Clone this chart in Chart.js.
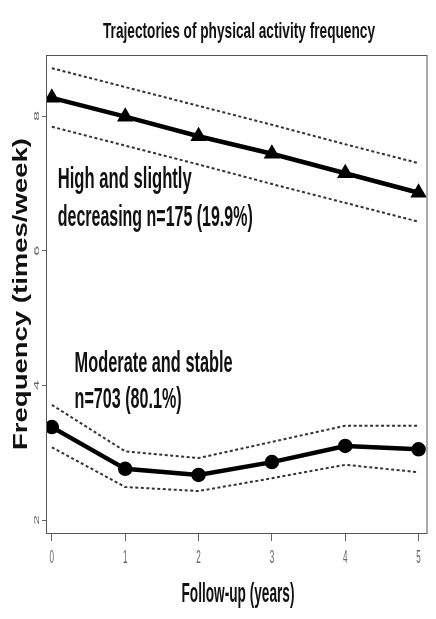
<!DOCTYPE html>
<html>
<head>
<meta charset="utf-8">
<script src="https://cdn.jsdelivr.net/npm/chart.js@4.4.1/dist/chart.umd.min.js"></script>
<style>
  html, body { margin: 0; padding: 0; background: #fff; }
  #wrap { width: 436px; height: 619px; }
</style>
</head>
<body>
<div id="wrap"><canvas id="chart" width="436" height="619"></canvas></div>
<script>
// ---- data ----
const years = [0, 1, 2, 3, 4, 5];
const xTicks = [0, 1, 2, 3, 4, 5];
const yTicks = [2, 4, 6, 8];

const highMean  = [8.27, 7.99, 7.70, 7.44, 7.15, 6.86];
const highUpper = [8.71, 8.43, 8.15, 7.87, 7.58, 7.30];
const highLower = [7.84, 7.56, 7.28, 6.99, 6.71, 6.43];

const modMean  = [3.38, 2.76, 2.67, 2.86, 3.10, 3.05];
const modUpper = [3.71, 3.02, 2.92, 3.16, 3.40, 3.40];
const modLower = [3.08, 2.49, 2.43, 2.62, 2.82, 2.71];

const chartTitle = 'Trajectories of physical activity frequency';
const xTitle = 'Follow-up (years)';
const yTitle = 'Frequency (times/week)';

// group labels, anchored in data units (x, y of baseline)
const groupLabels = [
  { lines: ['High and slightly', 'decreasing n=175 (19.9%)'], x: 0.08, y: [6.93, 6.37], widths: [134, 195] },
  { lines: ['Moderate and stable', 'n=703 (80.1%)'], x: 0.31, y: [4.20, 3.66], widths: [158, 107] }
];

const FONT = '"Liberation Sans", Arial, sans-serif';

function pts(arr) {
  return years.map((t, i) => ({ x: t, y: arr[i] }));
}

// draws text squeezed/stretched horizontally to a given width
// (the source figure is a horizontally squashed R plot)
function fittedText(ctx, text, font, x, y, width, align, rot, sy) {
  ctx.save();
  ctx.font = font;
  const w = ctx.measureText(text).width;
  ctx.translate(x, y);
  if (rot) ctx.rotate(rot);
  ctx.scale(width / w, sy || 1);
  ctx.textBaseline = 'alphabetic';
  ctx.textAlign = 'left';
  ctx.fillText(text, align === 'center' ? -w / 2 : 0, 0);
  ctx.restore();
}

const textPlugin = {
  id: 'texts',
  afterDraw(chart) {
    const ctx = chart.ctx;
    const a = chart.chartArea;
    const xs = chart.scales.x, ys = chart.scales.y;

    // plot box
    ctx.save();
    ctx.strokeStyle = '#555';
    ctx.lineWidth = 1;
    ctx.strokeRect(a.left + 0.5, a.top + 0.5, a.right - a.left, a.bottom - a.top);
    ctx.restore();

    // tick labels
    ctx.fillStyle = '#666';
    xTicks.forEach(v => {
      fittedText(ctx, String(v), '18px ' + FONT, xs.getPixelForValue(v), a.bottom + 30, 4.5, 'center');
    });
    yTicks.forEach(v => {
      fittedText(ctx, String(v), '18px ' + FONT, a.left - 7, ys.getPixelForValue(v), 10, 'center', -Math.PI / 2, 0.42);
    });

    ctx.fillStyle = '#111';
    fittedText(ctx, chartTitle, 'bold 22px ' + FONT, 239, 38, 272, 'center');
    fittedText(ctx, xTitle, 'bold 28px ' + FONT, 238, 602, 113, 'center');
    fittedText(ctx, yTitle, 'bold 20px ' + FONT, 27, 294, 312, 'center', -Math.PI / 2);

    groupLabels.forEach(g => {
      g.lines.forEach((line, i) => {
        fittedText(ctx, line, 'bold 29px ' + FONT,
          xs.getPixelForValue(g.x), ys.getPixelForValue(g.y[i]), g.widths[i], 'left');
      });
    });
  }
};

const meanStyle = { borderColor: '#000', backgroundColor: '#000', borderWidth: 4.5, pointRadius: 5, tension: 0 };
const ciStyle = { borderColor: '#333', borderWidth: 2, borderDash: [3, 2.5], pointRadius: 0, tension: 0 };

new Chart(document.getElementById('chart'), {
  type: 'line',
  data: {
    datasets: [
      Object.assign({ label: 'High upper', data: pts(highUpper) }, ciStyle),
      Object.assign({ label: 'High lower', data: pts(highLower) }, ciStyle),
      Object.assign({ label: 'Moderate upper', data: pts(modUpper) }, ciStyle),
      Object.assign({ label: 'Moderate lower', data: pts(modLower) }, ciStyle),
      Object.assign({ label: 'High and slightly decreasing', data: pts(highMean), pointStyle: 'triangle', pointRadius: 5.5 }, meanStyle),
      Object.assign({ label: 'Moderate and stable', data: pts(modMean), pointStyle: 'circle', pointRadius: 4.5 }, meanStyle)
    ]
  },
  options: {
    responsive: false,
    animation: false,
    layout: { padding: { top: 55, right: 4, left: 0, bottom: 0 } },
    plugins: {
      legend: { display: false },
      title: { display: false },
      tooltip: { enabled: false }
    },
    scales: {
      x: {
        type: 'linear',
        min: -0.08,
        max: 5.108,
        afterBuildTicks: s => { s.ticks = xTicks.map(v => ({ value: v })); },
        afterFit: s => { s.height = 86; },
        grid: { display: true, drawOnChartArea: false, tickLength: 8, color: '#666', lineWidth: 1 },
        border: { display: true, color: '#555', width: 1 },
        ticks: { display: false }
      },
      y: {
        type: 'linear',
        min: 1.807,
        max: 8.906,
        afterBuildTicks: s => { s.ticks = yTicks.map(v => ({ value: v })); },
        afterFit: s => { s.width = 46; },
        grid: { display: true, drawOnChartArea: false, tickLength: 4, color: '#666', lineWidth: 1 },
        border: { display: true, color: '#555', width: 1 },
        ticks: { display: false }
      }
    }
  },
  plugins: [textPlugin]
});
</script>
</body>
</html>
